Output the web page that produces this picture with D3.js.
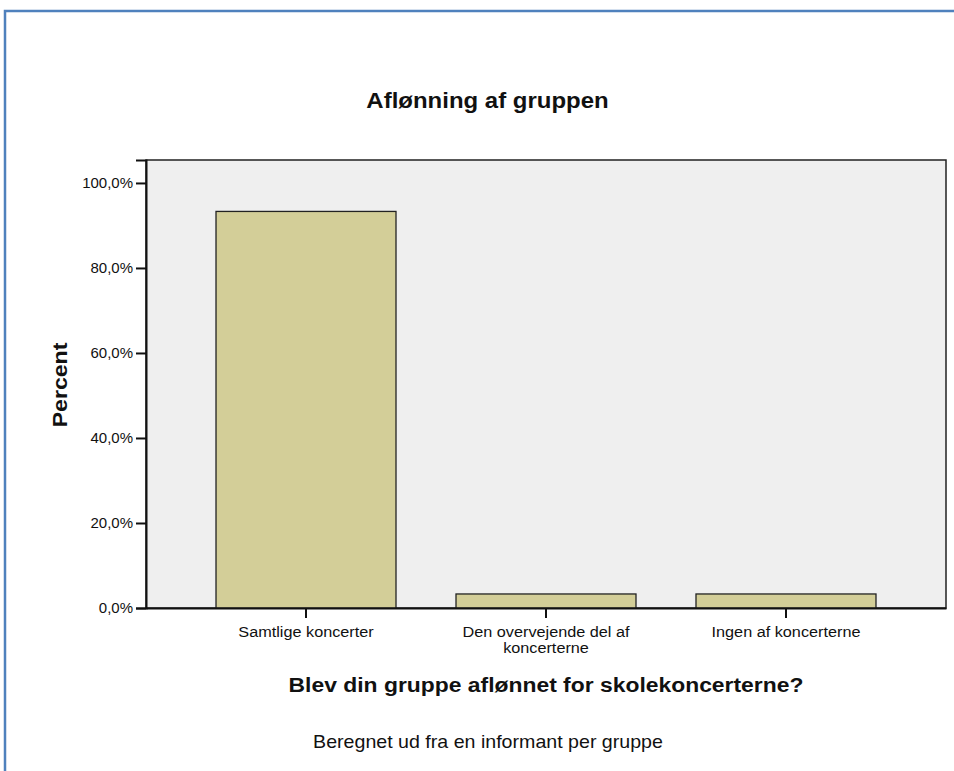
<!DOCTYPE html>
<html>
<head>
<meta charset="utf-8">
<script src="https://cdn.jsdelivr.net/npm/d3@7"></script>
<style>
  body { margin: 0; background: #fff; }
  text { font-family: "Liberation Sans", Arial, sans-serif; fill: #111; }
</style>
</head>
<body>
<svg class="chart"></svg>
<script>
// values
const categories = ['Samtlige koncerter', 'Den overvejende del af koncerterne', 'Ingen af koncerterne']
const percents = [93.3, 3.3, 3.3]
const yTicks = [0, 20, 40, 60, 80, 100]
const titleText = 'Aflønning af gruppen'
const xTitle = 'Blev din gruppe aflønnet for skolekoncerterne?'
const yTitle = 'Percent'
const footnote = 'Beregnet ud fra en informant per gruppe'

// label line breaks as in the original
const labelLines = {
  'Den overvejende del af koncerterne': ['Den overvejende del af', 'koncerterne']
}

const width = 954
const height = 771
const plot = { left: 146, right: 946, top: 160, bottom: 608 }

const danish = d3.formatLocale({ decimal: ',', thousands: '.', grouping: [3], currency: ['', ' kr'] })
const pct = v => danish.format('.1f')(v) + '%'

const chart = d3.select('.chart')
  .attr('width', width)
  .attr('height', height)

// the SPSS export renders its text a bit wider than Arial, so stretch it
const wideText = (x, y, sx, rotate) => `translate(${x},${y})${rotate ? ` rotate(${rotate})` : ''} scale(${sx},1)`

// blue frame of the output window
chart.append('path')
  .attr('d', `M${width},11 H5 V${height}`)
  .attr('fill', 'none')
  .attr('stroke', '#4f81bd')
  .attr('stroke-width', 2.5)

const xScale = d3.scaleBand()
  .domain(categories)
  .range([plot.left, plot.right])
  .paddingInner(0.25)
  .paddingOuter(0.2917)

const yScale = d3.scaleLinear()
  .domain([0, 105.4])
  .range([plot.bottom, plot.top])

chart.append('rect')
  .attr('x', plot.left)
  .attr('y', plot.top)
  .attr('width', plot.right - plot.left)
  .attr('height', plot.bottom - plot.top)
  .attr('fill', '#efefef')
  .attr('stroke', '#222')
  .attr('stroke-width', 1.5)

chart.append('g').attr('class', 'bars')
  .selectAll('rect')
  .data(categories)
  .enter()
  .append('rect')
  .attr('x', c => xScale(c))
  .attr('y', (c, i) => yScale(percents[i]))
  .attr('width', xScale.bandwidth())
  .attr('height', (c, i) => yScale(0) - yScale(percents[i]))
  .attr('fill', '#d3ce98')
  .attr('stroke', '#222')
  .attr('stroke-width', 1.3)

const yAxis = chart.append('g')
  .attr('transform', `translate(${plot.left},0)`)
  .call(d3.axisLeft(yScale).tickValues(yTicks).tickFormat(pct).tickSize(10).tickPadding(3))
yAxis.select('.domain').attr('stroke', '#111').attr('stroke-width', 2)
yAxis.selectAll('.tick line').attr('stroke', '#111').attr('stroke-width', 2)
yAxis.selectAll('.tick text')
  .attr('font-size', 15)
  .attr('font-family', '"Liberation Sans", Arial, sans-serif')
  .attr('fill', '#111')

const xAxis = chart.append('g')
  .attr('transform', `translate(0,${plot.bottom})`)
  .call(d3.axisBottom(xScale).tickSize(10).tickSizeOuter(0).tickFormat(''))
xAxis.select('.domain').attr('stroke', '#111').attr('stroke-width', 2)
xAxis.selectAll('.tick line').attr('stroke', '#111').attr('stroke-width', 2)
xAxis.selectAll('.tick text').remove()
xAxis.selectAll('.tick')
  .each((c, i, nodes) => {
    const lines = labelLines[c] || [c]
    d3.select(nodes[i]).selectAll('text.lbl')
      .data(lines)
      .enter()
      .append('text')
      .attr('class', 'lbl')
      .attr('text-anchor', 'middle')
      .attr('font-size', 14)
      .attr('transform', (d, j) => wideText(0, 29 + j * 15.5, 1.16))
      .text(d => d)
  })

chart.append('text')
  .attr('transform', wideText(487.5, 108, 1.09))
  .attr('text-anchor', 'middle')
  .attr('font-size', 22)
  .attr('font-weight', 'bold')
  .text(titleText)

chart.append('text')
  .attr('transform', wideText(xScale(categories[1]) + xScale.bandwidth() / 2, 692, 1.09))
  .attr('text-anchor', 'middle')
  .attr('font-size', 21)
  .attr('font-weight', 'bold')
  .text(xTitle)

chart.append('text')
  .attr('transform', wideText(67, (plot.top + plot.bottom) / 2 + 1, 1.1, -90))
  .attr('text-anchor', 'middle')
  .attr('font-size', 21)
  .attr('font-weight', 'bold')
  .text(yTitle)

chart.append('text')
  .attr('transform', wideText(488, 748, 1.09))
  .attr('text-anchor', 'middle')
  .attr('font-size', 18)
  .text(footnote)
</script>
</body>
</html>
